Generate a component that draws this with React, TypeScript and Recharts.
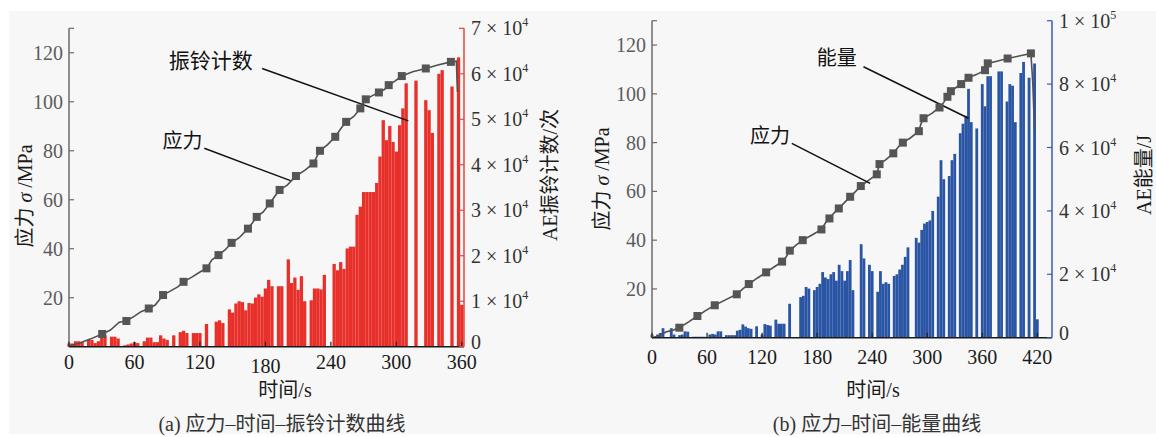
// 应力–时间–声发射曲线 (振铃计数 / 能量), 两个并排面板
import React from 'react'
import { ComposedChart, Bar, Line, XAxis, YAxis, ReferenceLine, ReferenceDot } from 'recharts'

const SERIF = '"Liberation Serif", "Times New Roman", "Noto Sans CJK SC", serif'
const STEP = 3 // s, bar spacing

// (a) AE ring counts, x10^4, one bar every 3 s from t = 0
const ringCounts = [
  0.07, 0.07, 0.12, 0.12, 0.1, 0, 0.15, 0.15, 0.08, 0.12,
  0.2, 0.25, 0, 0.22, 0.22, 0.18, 0, 0.03, 0.05, 0.07,
  0.1, 0.08, 0, 0.12, 0.2, 0.2, 0.1, 0.1, 0.25, 0.18,
  0.15, 0, 0.25, 0, 0.32, 0.35, 0.3, 0, 0.3, 0.3,
  0.3, 0, 0.5, 0, 0, 0.55, 0.58, 0.52, 0, 0.82,
  0.75, 0.95, 1.0, 0.98, 0.8, 0.96, 0.95, 1.08, 1.15, 1.1,
  1.28, 1.47, 1.33, 0, 1.33, 1.33, 0, 1.92, 1.4, 1.52,
  1.25, 1.55, 1.0, 0, 1.02, 1.28, 1.28, 1.26, 1.58, 0,
  0, 1.82, 1.68, 1.86, 1.71, 2.16, 2.2, 2.2, 2.9, 3.08,
  3.4, 3.4, 3.4, 3.4, 3.6, 4.18, 4.98, 4.54, 4.85, 4.5,
  4.29, 4.87, 5.24, 5.79, 0, 0, 5.85, 0, 0, 5.42,
  5.2, 4.7, 0, 6.0, 6.08, 0, 0, 5.72, 0, 6.36,
  0.92,
]

// (b) AE energy, x10^4 J, one bar every 3 s from t = 0
const energyVals = [
  0.1, 0, 0.1, 0.15, 0.3, 0, 0, 0.3, 0.1, 0,
  0.08, 0.1, 0.2, 0.19, 0, 0.03, 0.03, 0.03, 0.03, 0.03,
  0, 0.1, 0.12, 0.1, 0.2, 0.2, 0, 0.08, 0.08, 0.08,
  0.08, 0.22, 0.25, 0.42, 0.35, 0.3, 0.28, 0, 0.36, 0,
  0.1, 0.43, 0.4, 0.38, 0, 0.57, 0.44, 0.44, 0.44, 0,
  1.07, 0, 0, 0, 1.28, 1.32, 1.6, 1.55, 0, 1.5,
  1.6, 1.7, 2.07, 1.9, 1.85, 2.0, 2.07, 1.8, 2.3, 2.1,
  1.8, 2.1, 2.45, 1.5, 0, 0, 2.95, 2.5, 0, 2.3,
  2.1, 0, 1.45, 2.1, 1.7, 1.75, 1.7, 0, 1.95, 2.0,
  2.15, 2.3, 2.55, 2.85, 0, 0, 3.15, 3.0, 3.4, 3.6,
  3.65, 3.7, 4.0, 0, 4.45, 5.6, 5.0, 0, 5.1, 5.6,
  5.8, 0, 6.45, 6.75, 7.0, 7.85, 6.8, 0, 6.6, 0,
  8.0, 7.3, 8.25, 8.25, 0, 0, 8.4, 8.4, 0, 7.45,
  8.0, 7.95, 6.8, 0, 8.35, 8.7, 0, 8.2, 0, 8.65,
  0.58,
]

// stress curves [t (s), σ (MPa)]
const stressCurveA = [
  [0, 0.3], [10, 1.5], [20, 3.2], [30.4, 5.2], [38, 6.8], [46, 10], [52.6, 10.5], [60, 12.5], [66, 14.3],
  [73.1, 15.6], [79, 17], [86.2, 21.1], [94, 23], [100, 24.5], [105, 26.5], [113, 28.5], [120, 30.5],
  [126, 32], [131, 35.5], [137, 37.4], [143, 39.5], [149, 42.4], [156, 44.5], [164, 48.2], [168, 50.5],
  [172, 53], [178, 55], [184, 58.5], [188, 61], [193, 64], [200, 66], [208, 69.7], [216, 72], [224, 74.8],
  [227, 77.5], [230, 80], [237, 82.5], [244, 85.7], [249, 89], [254, 91.8], [261, 94], [267, 97.3],
  [272, 101], [278, 102.5], [284, 103.8], [289, 105], [293, 106.8], [299, 108.5], [305, 110.5],
  [315, 112.3], [327, 113.6], [338, 115], [350, 116.3], [355, 116.6], [356, 104],
]
const stressMarksA = [
  [30.4, 5.2], [52.6, 10.5], [73.1, 15.6], [86.2, 21.1], [105, 26.5], [126, 32], [137, 37.4], [149, 42.4],
  [164, 48.2], [172, 53], [184, 58.5], [193, 64], [208, 69.7], [224, 74.8], [230, 80], [244, 85.7],
  [254, 91.8], [267, 97.3], [272, 101], [284, 103.8], [293, 106.8], [305, 110.5], [327, 113.6], [350, 116.3],
]
const stressCurveB = [
  [0, 0], [8, 0.8], [15, 2.3], [22, 3], [29.8, 4.1], [40, 6.5], [49.5, 8.9], [58, 11], [68.4, 13.3],
  [80, 15.5], [92.4, 17.8], [99, 20], [105.5, 22], [115, 24.5], [124.4, 26.8], [133, 29], [141.8, 31.2],
  [146, 33], [150.2, 35.7], [157, 38], [164.3, 40], [174, 42], [184.7, 44.4], [189, 47], [193.4, 48.9],
  [198, 51], [203.6, 53], [210, 55.5], [216, 57.8], [222, 60], [227.6, 62.2], [236, 64.5], [245, 67],
  [248, 71.2], [255, 73], [263, 75.6], [268, 78], [273.4, 80], [282, 82], [290.9, 84.7], [293, 87.5],
  [296, 90], [305, 92], [313.4, 94.4], [318, 96.5], [322, 98.8], [325.8, 101.1], [331, 102.5], [337, 104],
  [341, 105.5], [345, 106.6], [354, 108], [363, 109.7], [366, 112.5], [377, 113.5], [387.6, 114.5],
  [400, 115.5], [413, 116.6], [415, 105], [417, 85],
]
const stressMarksB = [
  [29.8, 4.1], [49.5, 8.9], [68.4, 13.3], [92.4, 17.8], [105.5, 22], [124.4, 26.8], [141.8, 31.2],
  [150.2, 35.7], [164.3, 40], [184.7, 44.4], [193.4, 48.9], [203.6, 53], [216, 57.8], [227.6, 62.2],
  [245, 67], [248, 71.2], [263, 75.6], [273.4, 80], [290.9, 84.7], [296, 90], [313.4, 94.4], [322, 98.8],
  [325.8, 101.1], [337, 104], [345, 106.6], [363, 109.7], [366, 112.5], [387.6, 114.5], [413, 116.6],
]

const timeTicksA = [0, 60, 120, 180, 240, 300, 360]
const timeTicksB = [0, 60, 120, 180, 240, 300, 360, 420]
const stressTicks = [20, 40, 60, 80, 100, 120, 130]
const ringTicks = [0, 1e4, 2e4, 3e4, 4e4, 5e4, 6e4, 7e4]
const energyTicks = [0, 2e4, 4e4, 6e4, 8e4, 1e5]

const toBars = (vals: number[]) => vals.map((v, i) => ({ t: i * STEP, v: v * 1e4 }))
const toPts = (pts: number[][]) => pts.map(([t, s]) => ({ t, s }))

function LeftTick(props: any) {
  const { x, y, payload } = props
  const v = payload.value
  return (
    <g>
      <line x1={x} x2={x + 5} y1={y} y2={y} stroke="#6b6b6b" strokeWidth={1.2} />
      {v <= 120 && (
        <text x={x - 6} y={y + 7} textAnchor="end" fontSize={20} fill="#5c5c5c" fontFamily={SERIF}>{v}</text>
      )}
    </g>
  )
}

function SciTick(props: any) {
  const { x, y, payload, color } = props
  const v = payload.value
  const exp = v > 0 ? Math.floor(Math.log10(v) + 1e-9) : 0
  const m = v > 0 ? Math.round(v / Math.pow(10, exp)) : 0
  return (
    <g>
      <line x1={x - 5} x2={x} y1={y} y2={y} stroke={color} strokeWidth={1.2} />
      <text x={x + 7} y={y + (v === 0 ? 2 : 7)} fontSize={20} fill="#333" fontFamily={SERIF}>
        {v === 0 ? '0' : <>{m} × 10<tspan dy={-9} fontSize={12}>{exp}</tspan></>}
      </text>
    </g>
  )
}

function XTick(props: any) {
  const { x, y, payload, dy, shift } = props
  const extra = (shift && shift[payload.value]) || 0
  return (
    <g>
      <line x1={x} x2={x} y1={y} y2={y - 5} stroke="#222" strokeWidth={1.2} />
      <text x={x} y={y + dy + extra} textAnchor="middle" fontSize={20} fill="#1a1a1a" fontFamily={SERIF}>{payload.value}</text>
    </g>
  )
}

const SquareDot = (p: any) => (
  <rect key={`m-${p.index}`} x={p.cx - 4} y={p.cy - 4} width={8} height={8} fill="#555" />
)

// fixed-width bar, centred on its time value
const barShape = (w: number) => (b: any) =>
  b.height > 0 ? <rect x={b.x + b.width / 2 - w / 2} y={b.y} width={w} height={b.height} fill={b.fill} /> : <g />

type Note = { text: string; at: [number, number]; from: [number, number]; to: [number, number]; size: number }

function Panel(p: any) {
  const notes: Note[] = p.notes
  return (
    <div style={{ position: 'absolute', left: p.left, top: 0 }}>
      <ComposedChart width={p.width} height={437} data={p.bars} margin={p.margin}>
        <XAxis dataKey="t" type="number" domain={[0, p.xMax]} ticks={p.xTicks} interval={0} height={30}
          tickSize={0} tickMargin={0} tickLine={false} axisLine={{ stroke: '#1a1a1a', strokeWidth: 1.5 }}
          tick={(t: any) => <XTick {...t} dy={p.xLabelDy} shift={p.xShift} />} />
        <YAxis yAxisId="s" dataKey="s" type="number" domain={[0, 130]} ticks={stressTicks} interval={0}
          width={p.leftW} tickSize={0} tickMargin={0} tickLine={false}
          axisLine={{ stroke: '#6b6b6b', strokeWidth: 1.5 }} tick={(t: any) => <LeftTick {...t} />} />
        <YAxis yAxisId="c" dataKey="v" orientation="right" type="number" domain={[0, p.rMax]} ticks={p.rTicks}
          interval={0} width={p.rightW} tickSize={0} tickMargin={0} tickLine={false}
          axisLine={{ stroke: p.axisColor, strokeWidth: 1.5 }} tick={(t: any) => <SciTick {...t} color={p.axisColor} />} />
        <Bar yAxisId="c" dataKey="v" fill={p.barColor} shape={barShape(p.barSize)} isAnimationActive={false} />
        <Line yAxisId="s" data={p.curve} dataKey="s" type="linear" stroke="#505050" strokeWidth={1.6}
          dot={false} activeDot={false} isAnimationActive={false} />
        <Line yAxisId="s" data={p.marks} dataKey="s" stroke="none" dot={SquareDot} activeDot={false}
          isAnimationActive={false} />
        {notes.map((n, i) => (
          <ReferenceLine key={`l${i}`} yAxisId="s" ifOverflow="visible" stroke="#111" strokeWidth={1.5}
            segment={[{ x: n.from[0], y: n.from[1] }, { x: n.to[0], y: n.to[1] }]} />
        ))}
        {notes.map((n, i) => (
          <ReferenceDot key={`d${i}`} yAxisId="s" x={n.at[0]} y={n.at[1]} r={0} ifOverflow="visible"
            shape={(sp: any) => (
              <text x={sp.cx} y={sp.cy} textAnchor="middle" dominantBaseline="central" fontSize={n.size}
                fill="#111" fontFamily={SERIF}>{n.text}</text>
            )} />
        ))}
      </ComposedChart>
    </div>
  )
}

function VText({ x, y, children }: any) {
  return (
    <text x={x} y={y} transform={`rotate(-90 ${x} ${y})`} textAnchor="middle" dominantBaseline="central"
      fontSize={20} fill="#1a1a1a" fontFamily={SERIF}>{children}</text>
  )
}

export default function App() {
  const stressTitle = <>应力 <tspan fontStyle="italic">σ</tspan> /MPa</>
  return (
    <div style={{ position: 'absolute', left: 0, top: 0, width: 1156, height: 437, background: '#fff', overflow: 'hidden' }}>
      <div style={{ position: 'absolute', left: 9, top: 11, width: 1147, height: 423, background: '#f7f7f7' }} />
      <Panel left={0} width={580} margin={{ top: 28.3, right: 16, bottom: 60.3, left: 0 }} leftW={69} rightW={100}
        bars={toBars(ringCounts)} curve={toPts(stressCurveA)} marks={toPts(stressMarksA)}
        xMax={362} xTicks={timeTicksA} rMax={7e4} rTicks={ringTicks}
        barColor="#e8302b" axisColor="#e5473c" barSize={3.3} xLabelDy={22} xShift={{ 180: 4 }}
        notes={[
          { text: '振铃计数', at: [130, 116.6], from: [177, 113.6], to: [311, 92.2], size: 21 },
          { text: '应力', at: [104, 83.8], from: [124, 81], to: [203, 67.8], size: 20 },
        ]} />
      <Panel left={580} width={576} margin={{ top: 20.7, right: 14, bottom: 69.3, left: 0 }} leftW={72} rightW={90}
        bars={toBars(energyVals)} curve={toPts(stressCurveB)} marks={toPts(stressMarksB)}
        xMax={436} xTicks={timeTicksB} rMax={1e5} rTicks={energyTicks}
        barColor="#2a55a4" axisColor="#3a5cb0" barSize={2.8} xLabelDy={26}
        notes={[
          { text: '能量', at: [201.5, 114.7], from: [230.5, 111.1], to: [345, 90], size: 20 },
          { text: '应力', at: [128.7, 82.7], from: [152.4, 79.7], to: [237.8, 63.3], size: 20 },
        ]} />
      <svg width={1156} height={437} style={{ position: 'absolute', left: 0, top: 0, pointerEvents: 'none' }}>
        <VText x={25} y={196}>{stressTitle}</VText>
        <VText x={550} y={175}>AE振铃计数/次</VText>
        <VText x={602} y={179}>{stressTitle}</VText>
        <VText x={1144} y={175}>AE能量/J</VText>
        <text x={285} y={397} textAnchor="middle" fontSize={20} fill="#1a1a1a" fontFamily={SERIF}>时间/s</text>
        <text x={873} y={397} textAnchor="middle" fontSize={20} fill="#1a1a1a" fontFamily={SERIF}>时间/s</text>
        <text x={282} y={431} textAnchor="middle" fontSize={20} fill="#333" fontFamily={SERIF}>(a) 应力–时间–振铃计数曲线</text>
        <text x={877} y={431} textAnchor="middle" fontSize={20} fill="#333" fontFamily={SERIF}>(b) 应力–时间–能量曲线</text>
      </svg>
    </div>
  )
}
